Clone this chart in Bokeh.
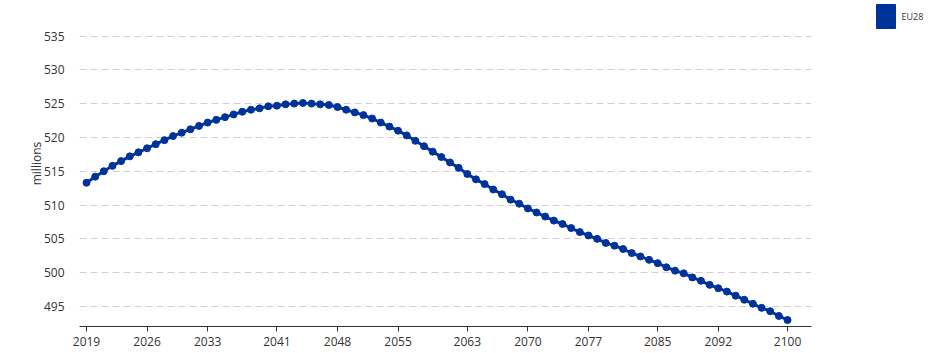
from bokeh.plotting import figure
from bokeh.layouts import row
from bokeh.models import Range1d, FixedTicker
from bokeh.core.properties import value
from bokeh.embed import file_html
from bokeh.resources import INLINE

years = list(range(2019, 2101))
population = [
    513.3, 514.2, 515.0, 515.8, 516.5, 517.2, 517.8, 518.4, 519.0, 519.6,
    520.2, 520.7, 521.2, 521.7, 522.2, 522.6, 523.0, 523.4, 523.8, 524.1,
    524.3, 524.6, 524.7, 524.9, 525.0, 525.1, 525.0, 524.9, 524.8, 524.5,
    524.1, 523.7, 523.3, 522.8, 522.2, 521.6, 521.0, 520.3, 519.5, 518.7,
    517.9, 517.1, 516.3, 515.5, 514.6, 513.8, 513.1, 512.3, 511.6, 510.8,
    510.2, 509.5, 508.9, 508.3, 507.7, 507.2, 506.6, 506.0, 505.5, 505.0,
    504.4, 504.0, 503.5, 502.9, 502.4, 501.9, 501.4, 500.8, 500.3, 499.9,
    499.3, 498.8, 498.2, 497.7, 497.2, 496.6, 496.0, 495.4, 494.8, 494.3,
    493.6, 493.0,
]
x_tick_years = [2019, 2026, 2033, 2041, 2048, 2055, 2063, 2070, 2077, 2085, 2092, 2100]
y_tick_values = [495, 500, 505, 510, 515, 520, 525, 530, 535]
series_names = ["EU28"]
y_axis_title = "millions"

COLOR = "#003399"
FONT = "Open Sans"

FRAME_H = 326  # frame spans the top of the figure down to the x axis

p = figure(
    width=868, height=350,
    output_backend="svg", toolbar_location=None,
    x_range=Range1d(2018.19, 2102.77),
    y_range=Range1d(492.04, 540.25),
    min_border_left=79, min_border_right=57,
    min_border_top=0, min_border_bottom=24,
)
p.outline_line_color = None

# axes
p.xaxis.ticker = FixedTicker(ticks=x_tick_years)
p.xaxis.axis_line_color = "#333333"
p.xaxis.major_tick_line_color = "#333333"
p.xaxis.major_tick_out = 5
p.xaxis.major_tick_in = 0
p.xaxis.minor_tick_line_color = None
p.xaxis.major_label_standoff = 5
p.xaxis.major_label_text_font = FONT
p.xaxis.major_label_text_font_size = "12px"
p.xaxis.major_label_text_color = "#333333"

p.yaxis.ticker = FixedTicker(ticks=y_tick_values)
p.yaxis.axis_line_color = None
p.yaxis.major_tick_line_color = None
p.yaxis.minor_tick_line_color = None
p.yaxis.major_label_standoff = 9
p.yaxis.major_label_text_font = FONT
p.yaxis.major_label_text_font_size = "12px"
p.yaxis.major_label_text_color = "#333333"
p.yaxis.axis_label = y_axis_title
p.yaxis.axis_label_text_font = FONT
p.yaxis.axis_label_text_font_size = "12px"
p.yaxis.axis_label_text_font_style = "normal"
p.yaxis.axis_label_text_color = "#333333"
p.yaxis.axis_label_standoff = -4

p.xgrid.grid_line_color = None
p.ygrid.grid_line_color = "#d0d0d0"
p.ygrid.grid_line_dash = "7 4"
p.ygrid.grid_line_width = 1

# series
p.line(years, population, line_color=COLOR, line_width=3)
p.scatter(years, population, size=7, fill_color=COLOR, line_color=COLOR)

# legend panel on the right (small figure in pixel units, frame aligned with main frame)
LG_W, LG_H = 72, 350
SW_LEFT, SW_W, SW_TOP, SW_H, LABEL_GAP = 8, 19, 4, 24, 6
lg = figure(
    width=LG_W, height=LG_H,
    output_backend="svg", toolbar_location=None,
    x_axis_type=None, y_axis_type=None,
    x_range=Range1d(0, LG_W), y_range=Range1d(FRAME_H, 0),
    min_border_left=0, min_border_right=0,
    min_border_top=0, min_border_bottom=24,
)
lg.outline_line_color = None
lg.grid.visible = False
lg.quad(left=[SW_LEFT], right=[SW_LEFT + SW_W], top=[SW_TOP], bottom=[SW_TOP + SW_H],
        fill_color=COLOR, line_color=COLOR)
lg.text(x=[SW_LEFT + SW_W + LABEL_GAP], y=[SW_TOP + SW_H / 2], text=series_names,
        text_font=value(FONT), text_font_size="9px", text_color="#333333",
        text_baseline="middle", text_align="left")

layout = row(p, lg)
open("out.html", "w").write(file_html(layout, INLINE))
